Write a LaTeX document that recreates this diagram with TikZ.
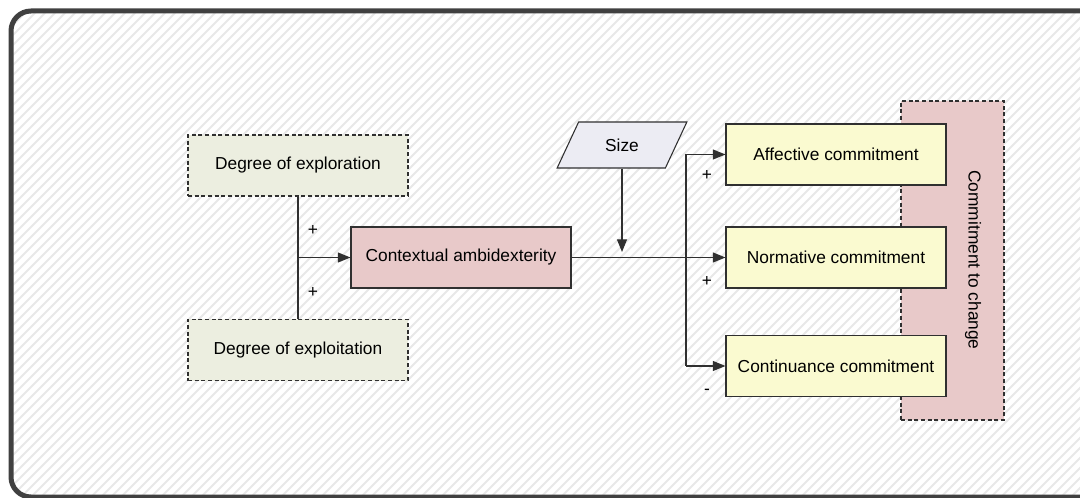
\documentclass[tikz,border=0pt]{standalone}
\usepackage{fontspec}
\setmainfont{Liberation Sans}
\usetikzlibrary{shapes.geometric,arrows.meta,positioning}
\definecolor{framegray}{HTML}{404040}
\definecolor{stripegray}{HTML}{E8E8E8}
\definecolor{boxline}{HTML}{303030}
\definecolor{greenfill}{HTML}{ECEEE0}
\definecolor{pinkfill}{HTML}{E8C9C9}
\definecolor{yellowfill}{HTML}{FAFAD0}
\definecolor{sizefill}{HTML}{ECECF3}

\begin{document}
\begin{tikzpicture}[
  x=0.75pt, y=-0.75pt,
  txt/.style={font=\fontsize{13}{15}\selectfont},
  box/.style={rectangle, draw=boxline, line width=0.8pt, txt,
              minimum width=165pt, minimum height=45.75pt, inner sep=2pt},
  indep/.style={box, dashed, dash pattern=on 3pt off 2pt, fill=greenfill},
  mediator/.style={box, fill=pinkfill},
  outcome/.style={box, fill=yellowfill},
  group/.style={rectangle, draw=boxline, line width=0.8pt, dash pattern=on 3pt off 2pt,
                fill=pinkfill, minimum width=77.25pt, minimum height=239.25pt},
  moder/.style={trapezium, trapezium left angle=64, trapezium right angle=116,
                trapezium stretches=true, draw=boxline, line width=0.8pt,
                fill=sizefill, minimum width=97.5pt, minimum height=34.5pt, txt},
  arr/.style={-{Triangle[length=9.5pt, width=7.5pt]}, line width=0.9pt, boxline},
  ln/.style={line width=0.9pt, boxline},
  sgn/.style={font=\fontsize{13}{15}\selectfont, inner sep=0pt},
  stripe/.style={stripegray, line width=1.5pt}
]
\useasboundingbox (0,0) rectangle (1080,498);
\clip (0,0) rectangle (1080,498);

% background
\begin{scope}
  \clip[rounded corners=15pt] (11,11) rectangle (1102,497);
  \fill[white] (0,0) rectangle (1080,498);
  \foreach \s in {-500,-490,...,1080}
    \draw[stripe] (\s,498) -- ++(498,-498);
\end{scope}
\draw[framegray, line width=3.75pt, rounded corners=15pt] (11,11) rectangle (1102,497);

% commitment group
\node[group] (cbox) at (952.5,260.5) {};
\node[txt, rotate=-90] (ctitle) at (973,260) {Commitment to change};

% boxes
\node[indep] (explor) at (298,165.5) {Degree of exploration};
\node[indep] (exploi) at (298,350) {Degree of exploitation};
\node[mediator] (ctx) at (461,257.5) {Contextual ambidexterity};
\node[moder] (size) at (622,145) {Size};
\node[outcome] (aff) at (836,154.5) {Affective commitment};
\node[outcome] (norm) at (836,257.5) {Normative commitment};
\node[outcome] (cont) at (836,366) {Continuance commitment};

% left side
\coordinate (lfork) at (298,257.5);
\draw[ln] (explor.south) -- (exploi.north);
\draw[arr] (lfork) -- (ctx.west);
\node[sgn] (p1) at (313,231) {+};
\node[sgn] (p2) at (313,292) {+};

% right side
\coordinate (rfork) at (686,257.5);
\coordinate (sizetip) at (622,252);
\draw[arr] (ctx.east) -- (norm.west);
\draw[arr] (size.south -| sizetip) -- (sizetip);
\draw[ln] (rfork |- aff.west) -- (rfork |- cont.west);
\draw[arr] (rfork |- aff.west) -- (aff.west);
\draw[arr] (rfork |- cont.west) -- (cont.west);
\node[sgn] (p3) at (707,176) {+};
\node[sgn] (p4) at (707,281) {+};
\node[sgn] (m1) at (707,392) {-};
\end{tikzpicture}
\end{document}
